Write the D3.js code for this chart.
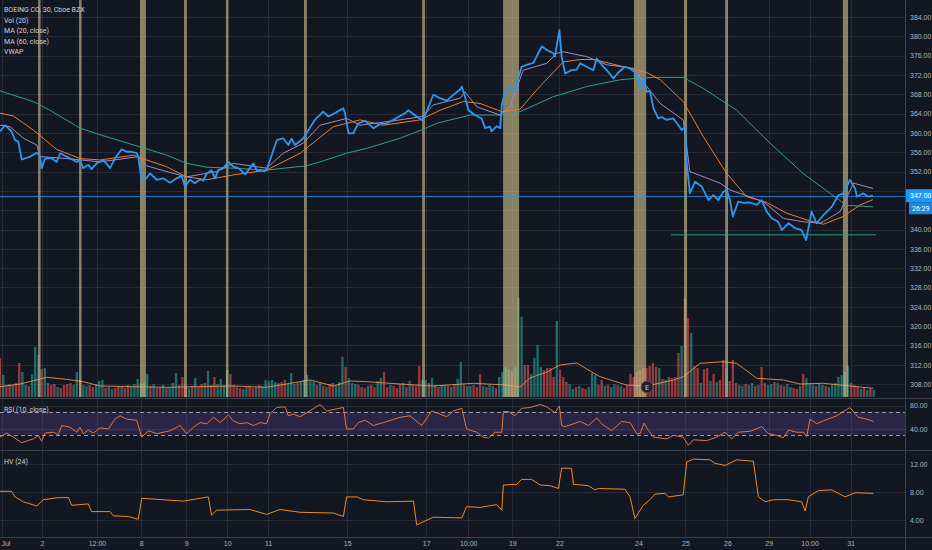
<!DOCTYPE html>
<html lang="en">
<head>
<meta charset="UTF-8">
<title>BOEING CO, 30, Cboe BZX</title>
<script src="https://cdn.jsdelivr.net/npm/d3@7"></script>
<style>
    html, body { margin: 0; padding: 0; background: #131722; }
    svg { display: block; font-family: Roboto, "Liberation Sans", sans-serif; }
    .axis text { fill: #b2b5be; font-size: 7px; }
</style>
</head>
<body>
<script>
    // 30 min bars, x = bar index
    const closePts = [[0,360.3],[1.6,361.6],[3.6,360.3],[4.7,358.5],[5.7,358.2],[6.8,354.5],[9.4,355.1],[11.5,355.9],[12.5,355.1],[13,352.7],[14.1,354.7],[16.1,354.8],[17.7,354.0],[18.8,355.8],[20.8,355.1],[24,354.0],[25,354.4],[26,352.7],[27.6,353.4],[28.6,352.5],[30.2,353.7],[32.3,354.4],[34.4,352.7],[35.9,354.7],[38,356.6],[39.6,356.1],[41.1,356.1],[42.7,355.8],[43.2,355.1],[44.3,350.1],[45.3,350.3],[46.9,351.6],[49,350.3],[51,350.6],[53.1,349.7],[55.2,350.6],[56.8,351.1],[57.8,348.9],[59.4,350.3],[60.9,349.6],[62.5,350.4],[63.5,350.1],[64.6,351.6],[66.1,352.3],[67.2,350.6],[68.2,352.3],[69.8,352.7],[71.4,354.0],[72.9,353.0],[74.5,352.7],[76.6,351.4],[79.2,353.7],[80.2,352.3],[82.8,352.1],[83.3,352.3],[86.5,358.5],[88.5,358.9],[90.1,357.5],[91.1,358.8],[92.2,357.5],[94.8,358.9],[98.4,362.7],[101,364.4],[102.6,363.4],[104.7,364.1],[107.3,365.1],[107.8,364.1],[108.9,359.9],[110.4,359.9],[112,362.0],[114.1,362.5],[116.7,361.0],[118.8,361.8],[120.8,362.0],[122.9,362.7],[125,363.5],[126.6,364.1],[127.6,364.7],[130.2,363.4],[132.1,362.5],[133.9,365.4],[135.4,367.9],[137.5,367.2],[139.6,366.7],[141.7,367.9],[143.8,369.0],[144.3,369.6],[145.3,367.5],[146.4,364.7],[148.4,363.7],[150.5,363.0],[151.6,361.0],[153.1,361.3],[153.6,360.3],[155.2,361.4],[156.3,361.0],[156.8,365.8],[157.8,368.5],[159.4,369.6],[161,368.5],[161.5,370.3],[163,373.7],[164.6,374.1],[166.7,374.5],[168.2,376.5],[169.3,377.9],[170.8,377.2],[172.9,376.5],[173.4,375.8],[174.8,381.3],[175.5,375.8],[176.6,372.3],[178.6,373.0],[180.2,373.1],[181.3,374.4],[183.3,373.7],[185.4,373.0],[186.5,375.4],[188,374.1],[189.6,373.0],[191.7,371.3],[193.2,372.5],[195.3,373.7],[196.9,373.3],[199,372.3],[200,369.2],[201.1,371.3],[202.1,368.5],[203.1,368.7],[204.2,365.1],[205.7,363.0],[206.8,363.3],[208.3,362.7],[210.4,363.0],[212,361.6],[213,360.6],[214.1,361.3],[214.6,353.7],[215.6,347.5],[217.2,349.9],[219.3,348.9],[221.4,346.1],[222.9,347.1],[224.5,346.1],[226,347.8],[227.1,348.2],[228.1,346.1],[229,342.7],[230.7,345.8],[232.3,345.5],[234.4,345.6],[236.5,345.1],[238,346.1],[239.6,343.7],[241.2,342.3],[243.2,341.6],[244.3,339.9],[246.4,341.3],[248.4,340.3],[250.5,339.9],[251.9,337.8],[253.6,343.7],[255.2,341.3],[257.3,343.0],[259.9,344.7],[262,347.1],[263.5,347.5],[265.6,350.3],[267.2,348.5],[267.8,346.8],[269.7,347.5],[271.3,346.8],[272.8,347.0]]

    const maFastPts = [[0,361.6],[3.1,361.3],[7.3,358.9],[11.5,357.5],[12.5,355.1],[20.8,354.7],[31.3,354.0],[43.2,355.1],[45.8,353.2],[52.1,352.0],[58.3,350.9],[67.7,352.0],[72.9,353.7],[83.3,352.7],[88.5,355.8],[94.8,357.9],[100,361.6],[108.3,363.0],[112.5,361.6],[125,362.7],[132.1,363.4],[135.4,365.8],[143.8,367.2],[145.3,368.5],[149,365.4],[156.3,363.7],[159.4,365.4],[163.5,373.0],[170.8,374.4],[174,376.5],[176,376.8],[183.3,375.8],[189.6,374.1],[197.9,373.4],[202.1,369.6],[206.3,366.1],[213.5,362.7],[215.6,352.0],[225,349.6],[228.1,348.2],[238.5,345.8],[244.8,342.3],[251,341.6],[256.3,341.3],[262.5,343.7],[266.7,349.6],[272.8,348.5]]

    const maMidPts = [[0,364.1],[4.2,363.5],[10.4,360.6],[17.7,356.6],[25,354.7],[31.3,354.4],[41.7,355.4],[45.8,354.4],[52.1,353.0],[58.3,350.9],[64.6,350.3],[72.9,351.3],[83.3,352.3],[93.8,355.8],[104.2,361.3],[112.5,362.7],[119.8,361.6],[131.3,362.7],[137.5,364.7],[144.8,366.5],[150,366.1],[156.8,364.4],[162.5,364.9],[167.7,368.9],[176,374.7],[181.3,375.2],[185.4,375.2],[190.6,374.4],[197.9,373.2],[202.1,372.5],[206.3,371.0],[213.5,366.5],[219.8,359.2],[227.1,351.6],[233.3,346.8],[239.6,345.6],[245.8,343.4],[252.1,342.0],[257.3,341.1],[263.5,342.7],[268.8,345.1],[272.8,346.2]]

    const maSlowPts = [[0,368.7],[10.4,366.5],[15.6,364.7],[25,361.0],[31.3,359.6],[43.8,357.1],[52.1,355.4],[58.3,353.7],[64.6,352.9],[72.9,352.7],[83.3,352.3],[95.8,353.2],[100,354.0],[108.3,355.8],[114.6,356.8],[125,358.9],[131.3,360.5],[136.5,362.0],[146.9,363.7],[156.3,363.7],[162.5,364.4],[172.9,367.5],[183.3,369.6],[193.8,371.0],[199,371.3],[204.2,371.5],[213.5,371.5],[219.8,369.2],[230.2,364.7],[240.6,357.9],[251,351.6],[259.4,347.5],[264.5,345.0],[272.8,344.7]]

    // volume in thousands, 'g' up bar / 'r' down bar
    const volumes = [390,220,120,130,120,140,340,250,120,110,
        230,500,420,280,290,140,120,130,100,90,
        120,130,140,120,250,170,120,110,120,100,
        130,160,170,90,100,80,90,110,100,90,
        120,110,130,180,140,140,230,110,130,90,
        100,120,90,100,140,240,120,200,100,90,
        110,190,100,130,140,260,120,200,130,180,
        120,270,230,120,100,90,80,100,110,90,
        100,120,110,170,160,170,150,140,150,170,
        130,240,130,140,150,170,220,160,150,120,
        140,110,100,130,140,120,150,400,300,190,
        140,130,120,100,90,110,120,100,160,190,
        250,100,120,110,90,130,140,100,160,120,
        110,310,170,170,140,190,120,100,110,120,
        110,100,120,180,350,120,110,110,120,100,
        230,110,100,120,110,90,200,250,300,280,
        260,300,990,800,320,320,230,390,520,300,
        270,290,290,200,760,270,200,150,130,80,
        100,110,90,80,100,240,220,120,170,110,
        120,100,130,120,110,90,120,230,200,250,
        270,290,290,310,340,300,290,180,170,200,
        190,200,440,510,980,790,640,310,290,140,
        280,290,160,230,150,170,370,290,160,370,
        140,120,110,130,120,140,110,120,300,140,
        120,130,150,140,120,110,130,100,90,80,
        110,230,190,140,120,110,130,120,110,100,
        130,140,200,220,250,310,140,120,100,80,
        90,70,80,70]
    const volDir = 'rgrrgrrggr' + 'gggrgrrrgr' + 'rrrggrggrr' + 'gggrggrrgr' + 'rggggggrgr' +
        'rgrgggrrrg' + 'rgrrggrrgg' + 'ggrrrrggrr' + 'grgggggrrr' + 'gggrgggggr' +
        'grgrrgggrg' + 'ggrrrgrrgg' + 'rrgrrrgrgr' + 'rrggrgrrgg' + 'rgrggrggrr' +
        'rgrggrgggg' + 'rgggrrgggg' + 'rrrrgrrrgg' + 'rgrrgggrrg' + 'rggrgrrrrr' +
        'rrrrrrgrgr' + 'rrrgrrgrrg' + 'rrgrgrrgrr' + 'rggrggrgrr' + 'ggrgrrggrr' +
        'grgggrggrg' + 'ggggggrrrg' + 'rgrg'
    const volMaPts = [[0,103],[6.3,130],[14.6,197],[20.8,177],[26,153],[31.3,110],[41.7,103],[52.1,97],[72.9,110],[83.3,97],[96.9,170],[104.2,110],[109.4,160],[114.6,153],[125,130],[135.4,110],[147.9,137],[158.3,120],[162.5,100],[165.6,190],[170.9,250],[175,320],[180.3,340],[184.4,260],[187.5,203],[195.8,120],[202.1,110],[210.4,170],[213.5,203],[218.8,337],[226,353],[230.2,337],[232.3,287],[236.5,187],[244.8,170],[250,130],[257.3,137],[265.6,110],[272.9,87]]

    const rsiPts = [[0,26],[2.1,33],[4.2,26],[6.8,16.5],[10.4,23],[12,29],[13,19],[14.1,33],[16.7,34.5],[18.2,30],[19.3,46],[21.9,43],[24,34.5],[25,43],[26,32],[27.6,38],[29.2,33],[31.3,42],[33.9,40],[35.9,57],[37.5,62.7],[39.6,57],[42.7,55],[44.3,26],[46.4,37],[49,32],[51,34.5],[53.1,37],[56.3,46],[58.3,32],[60.4,43],[62.5,51],[64.6,49],[66.7,60],[68.8,51],[71.4,64],[72.9,54],[75,49],[77.1,51],[79.2,46],[81.3,51],[83.3,49],[84.4,66.6],[86.5,77],[89.1,78],[90.1,62.7],[91.7,65.5],[93.8,61],[100,82],[102.1,71],[107.3,77],[108.3,40],[110.4,40],[112,51],[114.1,55],[116.7,46],[119.8,51],[125,60],[128.1,62.7],[131.8,46],[134.9,71],[137.5,65.5],[139.6,61],[141.7,71],[144.3,75.6],[145.8,40],[149,34.5],[151,26],[152.6,24.4],[154.7,34.5],[156.8,34.5],[157.3,70],[158.9,70],[160.9,62.7],[163,75.6],[165.6,76.8],[168.8,82],[170.8,78],[173.4,68],[174.8,79.6],[175.5,46],[176.6,44],[181.3,53],[183.9,46],[186.5,59],[188,49],[191.1,37],[194.3,53],[196.9,51],[199,32],[200,32],[201.3,50],[202.6,38],[204.2,26],[208.3,23],[210.4,29],[213.5,26],[215.1,12],[216.7,21.5],[220.8,20],[224,26],[226.6,34.5],[228.6,23],[230.7,34.5],[234.4,36],[238,44],[240.1,32],[242.7,29],[244.8,25],[246.4,38],[249,34.5],[251,34.5],[252.1,27],[253.1,57],[255.2,49],[257.3,54],[261.5,62.7],[263.5,70],[265.6,76.8],[268.2,60],[270.8,57],[272.9,53]]

    const hvPts = [[0,8.1],[3.6,8.1],[4.7,7.3],[7.3,6.6],[11.5,6.0],[13.5,6.9],[18.2,7.2],[21.4,7.2],[22.4,6.1],[27.6,6.3],[28.6,5.2],[34.4,5.2],[35.4,4.6],[40.1,4.5],[43.2,4.1],[44.3,7.1],[57.3,6.7],[65.1,7.3],[66.1,4.7],[67.7,5.4],[78.1,5.5],[83.3,4.8],[87.5,5.5],[93.8,5.1],[104.2,5.0],[107.3,4.5],[108.3,7.3],[111.5,7.3],[113.5,6.9],[120.8,6.6],[129.2,6.7],[130.2,3.3],[135.4,4.4],[144.3,4.3],[145.8,5.9],[150,5.8],[155.2,6.2],[156.8,5.4],[157.3,9.0],[161.5,9.1],[163,9.8],[166.1,9.8],[168.8,9.0],[171.9,8.9],[174.5,8.5],[175.5,11.4],[178.6,11.4],[179.2,9.1],[183.9,8.9],[185.9,8.3],[187,8.5],[195.3,8.4],[196.9,7.3],[198.4,4.2],[201,6.1],[203.1,6.9],[204.7,7.7],[207.8,7.8],[208.9,7.3],[213.5,7.6],[214.6,12.3],[216.7,12.7],[221.9,12.6],[223.4,12.1],[226.6,11.8],[230.2,12.6],[235.4,12.4],[237,7.3],[239.1,6.6],[241.7,6.9],[246.4,6.9],[250.5,6.6],[251.6,5.3],[252.6,7.3],[255.7,8.2],[259.9,8.3],[264.1,7.3],[267.2,7.9],[272.9,7.8]]

    // highlighted bars (start, end bar)
    const bands = [[11.9,12.5],[24.7,25.3],[43.75,45.6],[57.5,58.4],[70.6,71.25],[95,95.9],[131.9,132.8],[157.2,162.2],[198.1,201.9],[213.75,214.7],[226.6,227.5],[263.4,265]]

    const supportLine = {from: 209.7, to: 273.8, price: 338.9}
    const lastPrice = 347.00
    const countdown = '26:29'
    const earningsBar = 202.2

    const timeTicks = [0.6,13.1,30.3,44.1,58.2,71,83.8,108.5,133.2,146.3,160.1,174.8,199.5,214.2,227.3,240.2,253,265.8]
    const timeLabels = ['Jul','2','12:00','8','9','10','11','15','17','10:00','19','22','24','25','26','29','10:00','31']
    const priceTicks = d3.range(308, 385, 4)
    const rsiTicks = [40, 80]
    const hvTicks = [4, 8, 12]
    const legendLines = ['BOEING CO, 30, Cboe BZX', 'Vol (20)', 'MA (20, close)', 'MA (60, close)', 'VWAP']

    const W = 932, H = 550, plotW = 905
    const mainBottom = 398, rsiBottom = 450, hvBottom = 537

    const x = d3.scaleLinear().domain([0, 282.8]).range([0, plotW])
    const yPrice = d3.scaleLinear().domain([308, 384]).range([384.1, 17])
    const yVol = d3.scaleLinear().domain([0, 1000]).range([397, 297])
    const yRsi = d3.scaleLinear().domain([40, 80]).range([429, 405.7])
    const yHv = d3.scaleLinear().domain([4, 12]).range([520, 464])
    const crisp = v => Math.round(v) + 0.5

    const svg = d3.select('body').append('svg').attr('width', W).attr('height', H)
    svg.append('rect').attr('width', W).attr('height', H).attr('fill', '#131722')

    const defs = svg.append('defs')
    function addClip(id, y0, y1) {
        defs.append('clipPath').attr('id', id).append('rect')
            .attr('x', 0).attr('y', y0).attr('width', plotW).attr('height', y1 - y0)
    }
    addClip('c-main', 0, mainBottom)
    addClip('c-rsi', mainBottom, rsiBottom)
    addClip('c-hv', rsiBottom, hvBottom)

    // grid
    const grid = svg.append('g').attr('stroke', '#272b37').attr('stroke-width', 1)
    grid.selectAll('line.v').data(timeTicks).enter().append('line').attr('class', 'v')
        .attr('x1', d => crisp(x(d))).attr('x2', d => crisp(x(d)))
        .attr('y1', 0).attr('y2', hvBottom)
    grid.selectAll('line.p').data(priceTicks).enter().append('line').attr('class', 'p')
        .attr('x1', 0).attr('x2', plotW)
        .attr('y1', d => crisp(yPrice(d))).attr('y2', d => crisp(yPrice(d)))
    grid.selectAll('line.r').data(rsiTicks).enter().append('line').attr('class', 'r')
        .attr('x1', 0).attr('x2', plotW)
        .attr('y1', d => crisp(yRsi(d))).attr('y2', d => crisp(yRsi(d)))
    grid.selectAll('line.h').data(hvTicks).enter().append('line').attr('class', 'h')
        .attr('x1', 0).attr('x2', plotW)
        .attr('y1', d => crisp(yHv(d))).attr('y2', d => crisp(yHv(d)))

    // main pane
    const mainG = svg.append('g').attr('clip-path', 'url(#c-main)')
    const barW = (x(1) - x(0)) * 0.7
    mainG.selectAll('rect.vol').data(volumes).enter().append('rect').attr('class', 'vol')
        .attr('x', (d, i) => x(i) - barW / 2)
        .attr('width', barW)
        .attr('y', d => yVol(d))
        .attr('height', d => yVol(0) - yVol(d))
        .attr('fill', (d, i) => volDir[i] === 'g' ? 'rgba(38,166,154,0.62)' : 'rgba(239,83,80,0.62)')

    const line = (yScale) => d3.line().x(d => x(d[0])).y(d => yScale(d[1]))
    mainG.append('path').datum(volMaPts)
        .attr('d', line(yVol)).attr('fill', 'none').attr('stroke', '#e7934f').attr('stroke-width', 0.9)

    mainG.selectAll('rect.band').data(bands).enter().append('rect').attr('class', 'band')
        .attr('x', d => x(d[0]))
        .attr('width', d => Math.max(2.5, x(d[1]) - x(d[0])))
        .attr('y', 0).attr('height', mainBottom - 1)
        .attr('fill', 'rgba(214,198,140,0.6)')

    mainG.append('line')
        .attr('x1', 0).attr('x2', plotW)
        .attr('y1', crisp(yPrice(lastPrice))).attr('y2', crisp(yPrice(lastPrice)))
        .attr('stroke', 'rgba(33,150,243,0.75)').attr('stroke-width', 1)
    mainG.append('line')
        .attr('x1', x(supportLine.from)).attr('x2', x(supportLine.to))
        .attr('y1', yPrice(supportLine.price)).attr('y2', yPrice(supportLine.price))
        .attr('stroke', '#2a9d83').attr('stroke-width', 1)

    const maSeries = [
        {pts: maSlowPts, color: '#2fa08c', w: 1},
        {pts: maMidPts, color: '#f07d2c', w: 1},
        {pts: maFastPts, color: '#a889c0', w: 1}
    ]
    mainG.selectAll('path.ma').data(maSeries).enter().append('path').attr('class', 'ma')
        .attr('d', d => line(yPrice)(d.pts))
        .attr('fill', 'none').attr('stroke', d => d.color).attr('stroke-width', d => d.w)
    mainG.append('path').datum(closePts)
        .attr('d', line(yPrice)).attr('fill', 'none')
        .attr('stroke', '#2f97f0').attr('stroke-width', 1.8).attr('stroke-linejoin', 'round')

    const eG = mainG.append('g').attr('transform', `translate(${x(earningsBar)}, 387)`)
    eG.append('circle').attr('r', 6).attr('fill', '#1e222d').attr('stroke', '#50535e')
    eG.append('text').attr('y', 2.5).attr('text-anchor', 'middle')
        .attr('fill', '#d1d4dc').attr('font-size', 7).text('E')

    // RSI pane
    const rsiG = svg.append('g').attr('clip-path', 'url(#c-rsi)')
    rsiG.append('rect')
        .attr('x', 0).attr('width', plotW)
        .attr('y', yRsi(70)).attr('height', yRsi(30) - yRsi(70))
        .attr('fill', 'rgba(126,87,194,0.22)')
    rsiG.selectAll('line.lvl').data([70, 30]).enter().append('line').attr('class', 'lvl')
        .attr('x1', 0).attr('x2', plotW)
        .attr('y1', d => crisp(yRsi(d))).attr('y2', d => crisp(yRsi(d)))
        .attr('stroke', '#9598a1').attr('stroke-dasharray', '4,3')
    rsiG.append('path').datum(rsiPts)
        .attr('d', line(yRsi)).attr('fill', 'none').attr('stroke', '#de7a3c').attr('stroke-width', 1)

    // HV pane
    const hvG = svg.append('g').attr('clip-path', 'url(#c-hv)')
    hvG.append('path').datum(hvPts)
        .attr('d', line(yHv)).attr('fill', 'none').attr('stroke', '#f08a24').attr('stroke-width', 1)

    // separators
    const sep = svg.append('g').attr('stroke', '#3b3f4b').attr('stroke-width', 1)
    ;[mainBottom, rsiBottom, hvBottom].forEach(y => {
        sep.append('line').attr('x1', 0).attr('x2', W).attr('y1', crisp(y)).attr('y2', crisp(y))
    })
    sep.append('line').attr('x1', crisp(plotW)).attr('x2', crisp(plotW)).attr('y1', 0).attr('y2', H)

    // axes; price labels hidden behind the last-price tag are skipped, as on the original
    const yl = yPrice(lastPrice)
    const shownPriceTicks = priceTicks.filter(p => Math.abs(yPrice(p) - yl) > 10 && yPrice(p) - yl < -10 || yPrice(p) - yl > 22)
    const rightAxis = (scale, ticks) => d3.axisRight(scale).tickValues(ticks)
        .tickFormat(d3.format('.2f')).tickSize(0).tickPadding(5)
    ;[[yPrice, shownPriceTicks], [yRsi, rsiTicks], [yHv, hvTicks]].forEach(([s, t]) => {
        svg.append('g').attr('class', 'axis')
            .attr('transform', `translate(${plotW}, 0)`)
            .call(rightAxis(s, t))
            .call(g => g.select('.domain').remove())
    })
    svg.append('g').attr('class', 'axis')
        .attr('transform', `translate(0, ${hvBottom})`)
        .call(d3.axisBottom(x).tickValues(timeTicks).tickFormat((d, i) => timeLabels[i]).tickSize(0).tickPadding(4))
        .call(g => g.select('.domain').remove())
        .call(g => g.selectAll('.tick text').filter((d, i) => i === 0).attr('text-anchor', 'start').attr('dx', -1))

    // last price tag + countdown
    svg.append('rect').attr('x', plotW + 1).attr('y', yl - 6.5).attr('width', W - plotW - 1).attr('height', 13)
        .attr('fill', '#2196f3')
    svg.append('text').attr('x', plotW + 5).attr('y', yl + 2.5).attr('fill', '#fff')
        .attr('font-size', 7).text(d3.format('.2f')(lastPrice))
    svg.append('rect').attr('x', plotW + 4).attr('y', yl + 6.5).attr('width', W - plotW - 4).attr('height', 12)
        .attr('fill', '#1f86e0')
    svg.append('text').attr('x', plotW + 7).attr('y', yl + 15).attr('fill', '#fff')
        .attr('font-size', 7).text(countdown)

    // legends
    svg.append('g').selectAll('text').data(legendLines).enter().append('text')
        .attr('x', 4).attr('y', (d, i) => 12 + i * 10.5)
        .attr('fill', '#d1d4dc').attr('font-size', 7).text(d => d)
    svg.append('text').attr('x', 4).attr('y', 412).attr('fill', '#d1d4dc').attr('font-size', 7).text('RSI (10, close)')
    svg.append('text').attr('x', 4).attr('y', 464).attr('fill', '#d1d4dc').attr('font-size', 7).text('HV (24)')
</script>
</body>
</html>
